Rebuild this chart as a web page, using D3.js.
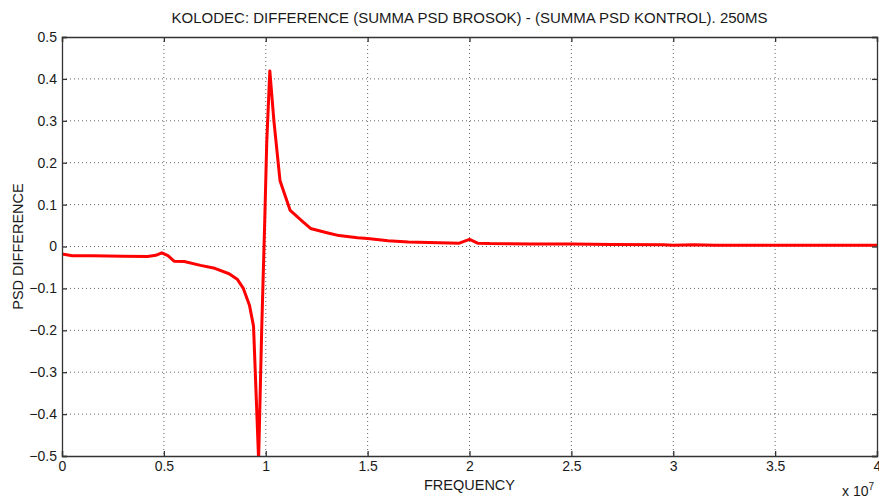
<!DOCTYPE html>
<html><head><meta charset="utf-8">
<script src="https://cdn.jsdelivr.net/npm/d3@7"></script>
<style>body{margin:0;background:#fff}svg{display:block}text{font-family:"Liberation Sans",Arial,sans-serif;fill:#1a1a1a}</style>
</head><body>
<svg id="c" width="879" height="498"></svg>
<script>
const title = "KOLODEC: DIFFERENCE (SUMMA PSD BROSOK) - (SUMMA PSD KONTROL). 250MS";
const xLabel = "FREQUENCY";
const yLabel = "PSD DIFFERENCE";
const xTicks = [0, 0.5, 1, 1.5, 2, 2.5, 3, 3.5, 4];
const yTicks = [-0.5, -0.4, -0.3, -0.2, -0.1, 0, 0.1, 0.2, 0.3, 0.4, 0.5];
// frequency in units of 1e7
const freq = [0, 0.05, 0.15, 0.3, 0.42, 0.46, 0.49, 0.52, 0.55, 0.6, 0.68, 0.75, 0.82, 0.86, 0.89, 0.92, 0.94, 0.965, 0.98, 0.995, 1.005, 1.02, 1.04, 1.07, 1.12, 1.18, 1.22, 1.3, 1.36, 1.45, 1.5, 1.6, 1.7, 1.85, 1.95, 2.0, 2.04, 2.1, 2.3, 2.5, 2.7, 2.95, 3.0, 3.1, 3.2, 3.5, 4.0];
const psd  = [-0.018, -0.022, -0.022, -0.023, -0.024, -0.021, -0.015, -0.022, -0.035, -0.036, -0.045, -0.052, -0.065, -0.078, -0.1, -0.14, -0.19, -0.51, -0.2, 0.06, 0.25, 0.419, 0.3, 0.157, 0.086, 0.06, 0.043, 0.033, 0.026, 0.021, 0.019, 0.014, 0.011, 0.009, 0.008, 0.017, 0.008, 0.007, 0.006, 0.006, 0.005, 0.004, 0.003, 0.004, 0.003, 0.003, 0.003];

const svg = d3.select("#c");
const L = 62, R = 877, T = 37, B = 456;
const x = d3.scaleLinear().domain([0, 4]).range([L, R]);
const y = d3.scaleLinear().domain([-0.5, 0.5]).range([B, T]);

// grid
const g = svg.append("g");
g.selectAll(".gx").data(xTicks.slice(1, -1)).enter().append("line")
  .attr("x1", d => x(d)).attr("x2", d => x(d)).attr("y1", T).attr("y2", B)
  .attr("stroke", "#666").attr("stroke-width", 1).attr("stroke-dasharray", "1,3");
g.selectAll(".gy").data(yTicks.slice(1, -1)).enter().append("line")
  .attr("y1", d => y(d)).attr("y2", d => y(d)).attr("x1", L).attr("x2", R)
  .attr("stroke", "#666").attr("stroke-width", 1).attr("stroke-dasharray", "1,3");

// clip + line
svg.append("clipPath").attr("id", "clip").append("rect")
  .attr("x", L).attr("y", T).attr("width", R - L).attr("height", B - T);
const data = freq.map((f, i) => [f, psd[i]]);
svg.append("path").datum(data)
  .attr("clip-path", "url(#clip)")
  .attr("fill", "none").attr("stroke", "#f00").attr("stroke-width", 3)
  .attr("stroke-linejoin", "round")
  .attr("d", d3.line().x(d => x(d[0])).y(d => y(d[1])));

// axes (box with ticks on all sides)
const fmt = d => d === 0 ? "0" : d3.format("")(d);
const ax = svg.append("g").attr("transform", `translate(0,${B})`)
  .call(d3.axisBottom(x).tickValues(xTicks).tickFormat(fmt).tickSize(-5).tickPadding(5));
const ay = svg.append("g").attr("transform", `translate(${L},0)`)
  .call(d3.axisLeft(y).tickValues(yTicks).tickFormat(fmt).tickSize(-5).tickPadding(5));
const at = svg.append("g").attr("transform", `translate(0,${T})`)
  .call(d3.axisTop(x).tickValues(xTicks).tickFormat("").tickSize(-5));
const ar = svg.append("g").attr("transform", `translate(${R},0)`)
  .call(d3.axisRight(y).tickValues(yTicks).tickFormat("").tickSize(-5));
[ax, ay, at, ar].forEach(a => {
  a.selectAll("path").attr("stroke", "#333").attr("stroke-width", 1.3);
  a.selectAll("line").attr("stroke", "#333").attr("stroke-width", 1.3);
  a.selectAll("text").style("font-size", "14px").style("font-family", '"Liberation Sans",Arial,sans-serif').attr("fill", "#1a1a1a");
});

svg.append("text").attr("x", (L + R) / 2).attr("y", 23).attr("text-anchor", "middle")
  .style("font-size", "15px").text(title);
svg.append("text").attr("x", (L + R) / 2).attr("y", 490).attr("text-anchor", "middle")
  .style("font-size", "14.5px").text(xLabel);
svg.append("text").attr("transform", `translate(23,${(T + B) / 2}) rotate(-90)`).attr("text-anchor", "middle")
  .style("font-size", "14.5px").text(yLabel);
const ex = svg.append("text").attr("x", 842).attr("y", 496).style("font-size", "14px");
ex.append("tspan").text("x 10");
ex.append("tspan").attr("dy", -6).style("font-size", "10px").text("7");
</script>
</body></html>
